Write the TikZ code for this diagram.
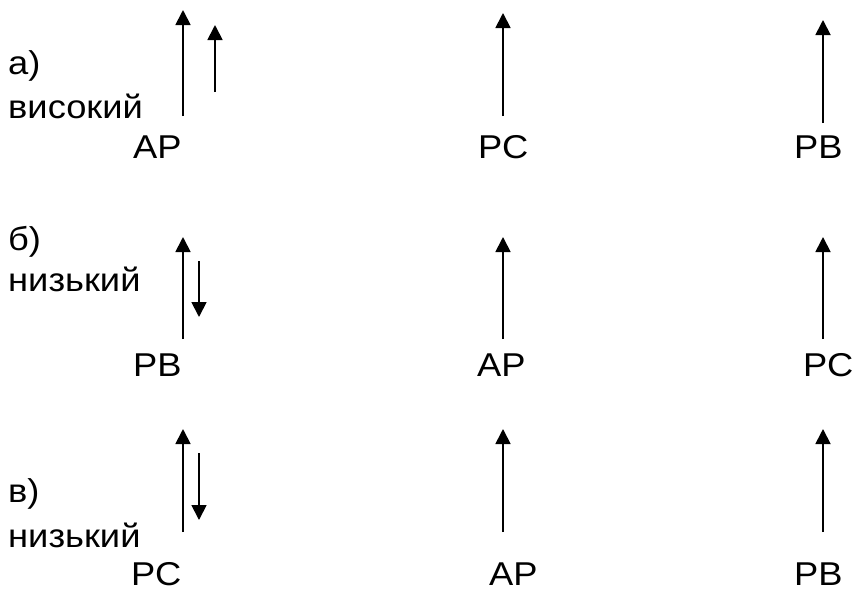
\documentclass[tikz,border=0pt]{standalone}
\usepackage{fontspec}
\setmainfont[FakeStretch=1.1]{Liberation Sans}
\usetikzlibrary{arrows.meta}
\begin{document}
\begin{tikzpicture}[x=1pt,y=-1pt,
  lbl/.style={anchor=base west,inner sep=0pt,font=\fontsize{33}{38}\selectfont},
  vec/.style={line width=1.8pt,-{Triangle[width=15pt,length=15pt]}}]
\useasboundingbox (0,0) rectangle (856,590);

% --- row а) ---
\node[lbl] (ha) at (8,74) {а)};
\node[lbl] (la) at (8,118) {високий};
\node[lbl] (a1t) at (133,158) {АР};
\node[lbl] (a2t) at (478,158) {РС};
\node[lbl] (a3t) at (794,158) {РВ};
\coordinate (a1s) at (183,116); \coordinate (a1e) at (183,10);
\coordinate (a1bs) at (215,92); \coordinate (a1be) at (215,25);
\coordinate (a2s) at (503,116); \coordinate (a2e) at (503,13);
\coordinate (a3s) at (823,123); \coordinate (a3e) at (823,20);
\draw[vec] (a1s) -- (a1e);
\draw[vec] (a1bs) -- (a1be);
\draw[vec] (a2s) -- (a2e);
\draw[vec] (a3s) -- (a3e);

% --- row б) ---
\node[lbl] (hb) at (8,250) {б)};
\node[lbl] (lb) at (8,291) {низький};
\node[lbl] (b1t) at (133,376) {РВ};
\node[lbl] (b2t) at (477,376) {АР};
\node[lbl] (b3t) at (803,376) {РС};
\coordinate (b1s) at (183,339); \coordinate (b1e) at (183,237);
\coordinate (b1bs) at (199,261); \coordinate (b1be) at (199,317);
\coordinate (b2s) at (503,339); \coordinate (b2e) at (503,237);
\coordinate (b3s) at (823,339); \coordinate (b3e) at (823,237);
\draw[vec] (b1s) -- (b1e);
\draw[vec] (b1bs) -- (b1be);
\draw[vec] (b2s) -- (b2e);
\draw[vec] (b3s) -- (b3e);

% --- row в) ---
\node[lbl] (hc) at (8,502) {в)};
\node[lbl] (lc) at (8,547) {низький};
\node[lbl] (c1t) at (131,585) {РС};
\node[lbl] (c2t) at (489,585) {АР};
\node[lbl] (c3t) at (794,585) {РВ};
\coordinate (c1s) at (183,532); \coordinate (c1e) at (183,429);
\coordinate (c1bs) at (199,453); \coordinate (c1be) at (199,520);
\coordinate (c2s) at (503,532); \coordinate (c2e) at (503,429);
\coordinate (c3s) at (823,532); \coordinate (c3e) at (823,429);
\draw[vec] (c1s) -- (c1e);
\draw[vec] (c1bs) -- (c1be);
\draw[vec] (c2s) -- (c2e);
\draw[vec] (c3s) -- (c3e);
\end{tikzpicture}
\end{document}
